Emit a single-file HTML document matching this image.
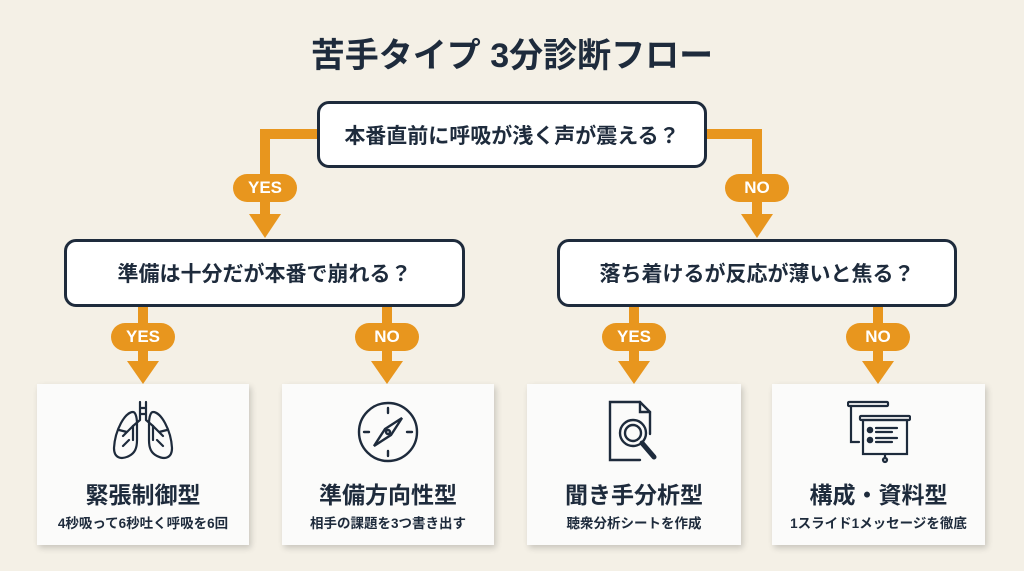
<!DOCTYPE html>
<html><head><meta charset="utf-8"><style>
body{margin:0;width:1024px;height:571px;background:#f4f0e6;font-family:"Liberation Sans","Noto Sans CJK JP",sans-serif;position:relative;overflow:hidden;color:#1e2b3c}
.t{position:absolute;left:0;width:1024px;top:28px;text-align:center;font-size:34px;font-weight:bold}
.q{position:absolute;background:#fff;border:3px solid #1e2b3c;border-radius:12px;box-sizing:border-box;display:flex;align-items:center;justify-content:center;font-size:21px;font-weight:bold}
.c{position:absolute;background:#fbfbfa;box-shadow:2px 3px 6px rgba(0,0,0,.18);text-align:center;box-sizing:border-box}
.c svg{position:absolute;left:50%;margin-left:-32px;top:16px}
.c .h{position:absolute;left:0;right:0;top:92px;font-size:23px;font-weight:bold}
.c .s{position:absolute;left:0;right:0;top:128px;font-size:13.5px;font-weight:bold}
.p{position:absolute;background:#e8961e;color:#fff;font-weight:bold;font-size:17px;border-radius:14px;width:64px;height:28px;line-height:28px;text-align:center}
</style></head><body>
<div class="t">苦手タイプ 3分診断フロー</div>
<svg width="1024" height="571" style="position:absolute;left:0;top:0">
<g fill="none" stroke="#e8961e" stroke-width="10">
<path d="M318 134 H265 V218"/><path d="M705 134 H757 V218"/>
<path d="M143 306 V364"/><path d="M387 306 V364"/><path d="M634 306 V364"/><path d="M878 306 V364"/>
</g>
<g fill="#e8961e">
<path d="M249 214 H281 L265 238Z"/><path d="M741 214 H773 L757 238Z"/>
<path d="M127 361 H159 L143 384Z"/><path d="M371 361 H403 L387 384Z"/><path d="M618 361 H650 L634 384Z"/><path d="M862 361 H894 L878 384Z"/>
</g></svg>
<div class="p" style="left:233px;top:174px">YES</div>
<div class="p" style="left:725px;top:174px">NO</div>
<div class="p" style="left:111px;top:323px">YES</div>
<div class="p" style="left:355px;top:323px">NO</div>
<div class="p" style="left:602px;top:323px">YES</div>
<div class="p" style="left:846px;top:323px">NO</div>
<div class="q" style="left:317px;top:101px;width:390px;height:67px">本番直前に呼吸が浅く声が震える？</div>
<div class="q" style="left:64px;top:239px;width:401px;height:68px">準備は十分だが本番で崩れる？</div>
<div class="q" style="left:557px;top:239px;width:400px;height:68px">落ち着けるが反応が薄いと焦る？</div>
<div class="c" style="left:37px;top:384px;width:212px;height:161px">
<svg width="64" height="64" viewBox="0 0 64 64" fill="none" stroke="#1e2b3c" stroke-width="2.2" stroke-linecap="round"><path d="M29 2V20M35 2V20M29 20L22 26M35 20L42 26M29 8H35M29 14H35"/><path d="M22 12C14 12 4 30 3 48C3 58 10 60 18 56C24 53 26 48 26 40V24C26 16 24 12 22 12Z"/><path d="M42 12C50 12 60 30 61 48C61 58 54 60 46 56C40 53 38 48 38 40V24C38 16 40 12 42 12Z"/><path d="M22 26L12 36M16 32L8 30M18 40L12 46M22 26V40M42 26L52 36M48 32L56 30M46 40L52 46M42 26V40"/></svg>
<div class="h">緊張制御型</div><div class="s">4秒吸って6秒吐く呼吸を6回</div></div>
<div class="c" style="left:282px;top:384px;width:212px;height:161px">
<svg width="64" height="64" viewBox="0 0 64 64" fill="none" stroke="#1e2b3c" stroke-width="2.4" stroke-linecap="round"><circle cx="32" cy="32" r="29"/><path d="M32 8V13M32 51V56M8 32H13M51 32H56"/><path d="M46 18L35 35L18 46L29 29Z"/><circle cx="32" cy="32" r="2"/></svg>
<div class="h">準備方向性型</div><div class="s">相手の課題を3つ書き出す</div></div>
<div class="c" style="left:527px;top:384px;width:214px;height:161px">
<svg width="64" height="64" viewBox="0 0 64 64" fill="none" stroke="#1e2b3c" stroke-width="2.4" stroke-linecap="round"><path d="M38 60H8V2H38L48 12V34"/><path d="M38 2V12H48"/><circle cx="31" cy="33" r="13"/><circle cx="31" cy="33" r="8"/><path d="M40 43L52 57" stroke-width="5"/></svg>
<div class="h">聞き手分析型</div><div class="s">聴衆分析シートを作成</div></div>
<div class="c" style="left:772px;top:384px;width:213px;height:161px">
<svg width="64" height="64" viewBox="0 0 64 64" fill="none" stroke="#1e2b3c" stroke-width="2.2" stroke-linecap="round"><rect x="1" y="2" width="40" height="4" rx="1"/><path d="M4 6V42H12"/><rect x="13" y="16" width="50" height="4" rx="1"/><rect x="16" y="20" width="44" height="34"/><circle cx="23" cy="30" r="2.2" fill="#1e2b3c"/><circle cx="23" cy="40" r="2.2" fill="#1e2b3c"/><path d="M29 28H50M29 32H45M29 38H50M29 42H45M38 54V58"/><circle cx="38" cy="60" r="2"/></svg>
<div class="h">構成・資料型</div><div class="s">1スライド1メッセージを徹底</div></div>
</body></html>
